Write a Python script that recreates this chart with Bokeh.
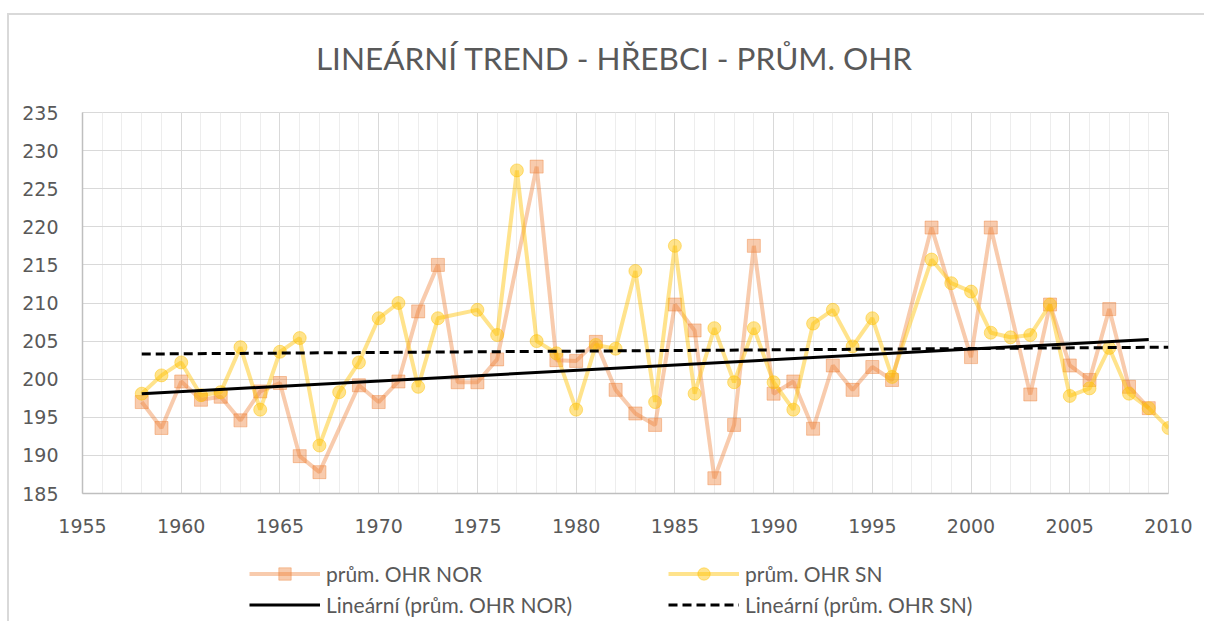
from bokeh.plotting import figure
from bokeh.models import (Range1d, SingleIntervalTicker, Legend, LegendItem, Div)
from bokeh.layouts import column
from bokeh.embed import file_html
from bokeh.resources import INLINE

# ---------------- data ----------------
title_text = "LINEÁRNÍ TREND - HŘEBCI - PRŮM. OHR"

nor_label = "prům. OHR NOR"
sn_label = "prům. OHR SN"
trend_nor_label = "Lineární (prům. OHR NOR)"
trend_sn_label = "Lineární (prům. OHR SN)"

nor_years = [1958, 1959, 1960, 1961, 1962, 1963, 1964, 1965, 1966, 1967,
             1969, 1970, 1971, 1972, 1973, 1974, 1975, 1976, 1978, 1979,
             1980, 1981, 1982, 1983, 1984, 1985, 1986, 1987, 1988, 1989,
             1990, 1991, 1992, 1993, 1994, 1995, 1996, 1998, 2000, 2001,
             2003, 2004, 2005, 2006, 2007, 2008, 2009]
nor_values = [197.0, 193.6, 199.7, 197.3, 197.7, 194.6, 198.4, 199.5, 189.9, 187.8,
              199.2, 197.0, 199.7, 208.9, 215.0, 199.6, 199.6, 202.6, 227.9, 202.5,
              202.4, 204.9, 198.6, 195.5, 194.0, 209.8, 206.4, 187.0, 194.0, 217.5,
              198.1, 199.7, 193.5, 201.8, 198.6, 201.6, 199.9, 219.9, 202.9, 219.9,
              198.0, 209.8, 201.8, 199.9, 209.2, 199.0, 196.2]

sn_years = [1958, 1959, 1960, 1961, 1962, 1963, 1964, 1965, 1966, 1967,
            1968, 1969, 1970, 1971, 1972, 1973, 1975, 1976, 1977, 1978,
            1979, 1980, 1981, 1982, 1983, 1984, 1985, 1986, 1987, 1988,
            1989, 1990, 1991, 1992, 1993, 1994, 1995, 1996, 1998, 1999,
            2000, 2001, 2002, 2003, 2004, 2005, 2006, 2007, 2008, 2009, 2010]
sn_values = [198.1, 200.5, 202.2, 197.9, 198.3, 204.2, 196.0, 203.6, 205.4, 191.3,
             198.3, 202.2, 208.0, 210.0, 199.0, 208.0, 209.1, 205.8, 227.4, 205.0,
             203.4, 196.0, 204.5, 204.0, 214.2, 197.0, 217.5, 198.1, 206.7, 199.6,
             206.7, 199.6, 196.0, 207.3, 209.1, 204.3, 208.0, 200.3, 215.7, 212.6,
             211.5, 206.1, 205.5, 205.8, 209.8, 197.8, 198.8, 204.1, 198.1, 196.2, 193.6]

trend_nor_years = [1958, 2009]
trend_nor_values = [198.1, 205.2]
trend_sn_years = [1958, 2010]
trend_sn_values = [203.3, 204.2]

x_start, x_end, x_step = 1955, 2010, 5
y_start, y_end, y_step = 185, 235, 5

# ---------------- styling ----------------
TXT = "#595959"
GRID = "#D9D9D9"
MINOR = "#EDEDED"
NOR_C = "#ED7D31"
SN_C = "#FFC000"

nor_line_kw = dict(line_color=NOR_C, line_alpha=0.4, line_width=4)
nor_pt_kw = dict(marker="square", size=13, fill_color=NOR_C, fill_alpha=0.4,
                 line_color=NOR_C, line_alpha=0.4)
sn_line_kw = dict(line_color=SN_C, line_alpha=0.45, line_width=4)
sn_pt_kw = dict(marker="circle", size=13, fill_color=SN_C, fill_alpha=0.45,
                line_color=SN_C, line_alpha=0.45)
tn_kw = dict(line_color="black", line_width=3)
ts_kw = dict(line_color="black", line_width=3, line_dash="9 5")

W = 1195

# ---------------- title ----------------
title_div = Div(width=W, height=60, margin=0,
                text=('<div style="font-family: Lato; font-size: 31.5px; line-height: 1; '
                      'color: #595959; text-align: center; padding-top: 28px; '
                      'padding-left: 15px; width: 1195px; box-sizing: border-box; '
                      'white-space: nowrap;">' + title_text + '</div>'))

# ---------------- main chart ----------------
p = figure(width=W, height=470, output_backend="svg", toolbar_location=None,
           x_range=Range1d(x_start, x_end), y_range=Range1d(y_start, y_end),
           min_border_left=73, min_border_right=36, min_border_top=37,
           min_border_bottom=52, background_fill_color="white",
           border_fill_color="white", outline_line_color=GRID,
           outline_line_width=1)

p.xaxis.ticker = SingleIntervalTicker(interval=x_step, num_minor_ticks=5)
p.yaxis.ticker = SingleIntervalTicker(interval=y_step, num_minor_ticks=0)

for ax in (p.xaxis[0], p.yaxis[0]):
    ax.major_tick_line_color = None
    ax.minor_tick_line_color = None
    ax.major_tick_out = 0
    ax.major_tick_in = 0
    ax.axis_line_color = "#BFBFBF"
    ax.axis_line_width = 1.5
    ax.major_label_text_font = "DejaVu Sans"
    ax.major_label_text_font_size = "19px"
    ax.major_label_text_color = TXT
p.xaxis.major_label_standoff = 21
p.yaxis.major_label_standoff = 24

p.xgrid.grid_line_color = GRID
p.xgrid.minor_grid_line_color = MINOR
p.xgrid.minor_grid_line_width = 1
p.ygrid.grid_line_color = GRID

p.line(nor_years, nor_values, **nor_line_kw)
p.scatter(nor_years, nor_values, **nor_pt_kw)
p.line(sn_years, sn_values, **sn_line_kw)
p.scatter(sn_years, sn_values, **sn_pt_kw)
p.line(trend_nor_years, trend_nor_values, **tn_kw)
p.line(trend_sn_years, trend_sn_values, **ts_kw)

# ---------------- legend strip ----------------
# the series are drawn again here outside the visible range, only to feed the legend
LH = 76
q = figure(width=W, height=LH, output_backend="svg", toolbar_location=None,
           x_range=Range1d(0, 1), y_range=Range1d(0, 1),
           min_border=0, outline_line_color=None, background_fill_color="white",
           border_fill_color="white")
q.axis.visible = False
q.grid.visible = False

l_nor = q.line(nor_years, nor_values, **nor_line_kw)
s_nor = q.scatter(nor_years, nor_values, **nor_pt_kw)
l_sn = q.line(sn_years, sn_values, **sn_line_kw)
s_sn = q.scatter(sn_years, sn_values, **sn_pt_kw)
l_tn = q.line(trend_nor_years, trend_nor_values, **tn_kw)
l_ts = q.line(trend_sn_years, trend_sn_values, **ts_kw)

def make_legend(items, loc):
    return Legend(items=items, location=loc, orientation="vertical",
                  glyph_width=71, glyph_height=31, label_height=31, spacing=0,
                  padding=0, margin=0, label_standoff=6,
                  label_text_font="Lato", label_text_font_size="21px",
                  label_text_color=TXT, background_fill_alpha=0,
                  border_line_color=None)

q.add_layout(make_legend([LegendItem(label=nor_label, renderers=[l_nor, s_nor]),
                          LegendItem(label=trend_nor_label, renderers=[l_tn])],
                         (167, 1)))
q.add_layout(make_legend([LegendItem(label=sn_label, renderers=[l_sn, s_sn]),
                          LegendItem(label=trend_sn_label, renderers=[l_ts])],
                         (586, 1)))

layout = column(title_div, p, q, spacing=0)
layout.styles = {"border-left": "2px solid #D9D9D9", "border-top": "2px solid #D9D9D9",
                 "margin-top": "13px", "margin-left": "7px"}

open("out.html", "w").write(file_html(layout, INLINE))
